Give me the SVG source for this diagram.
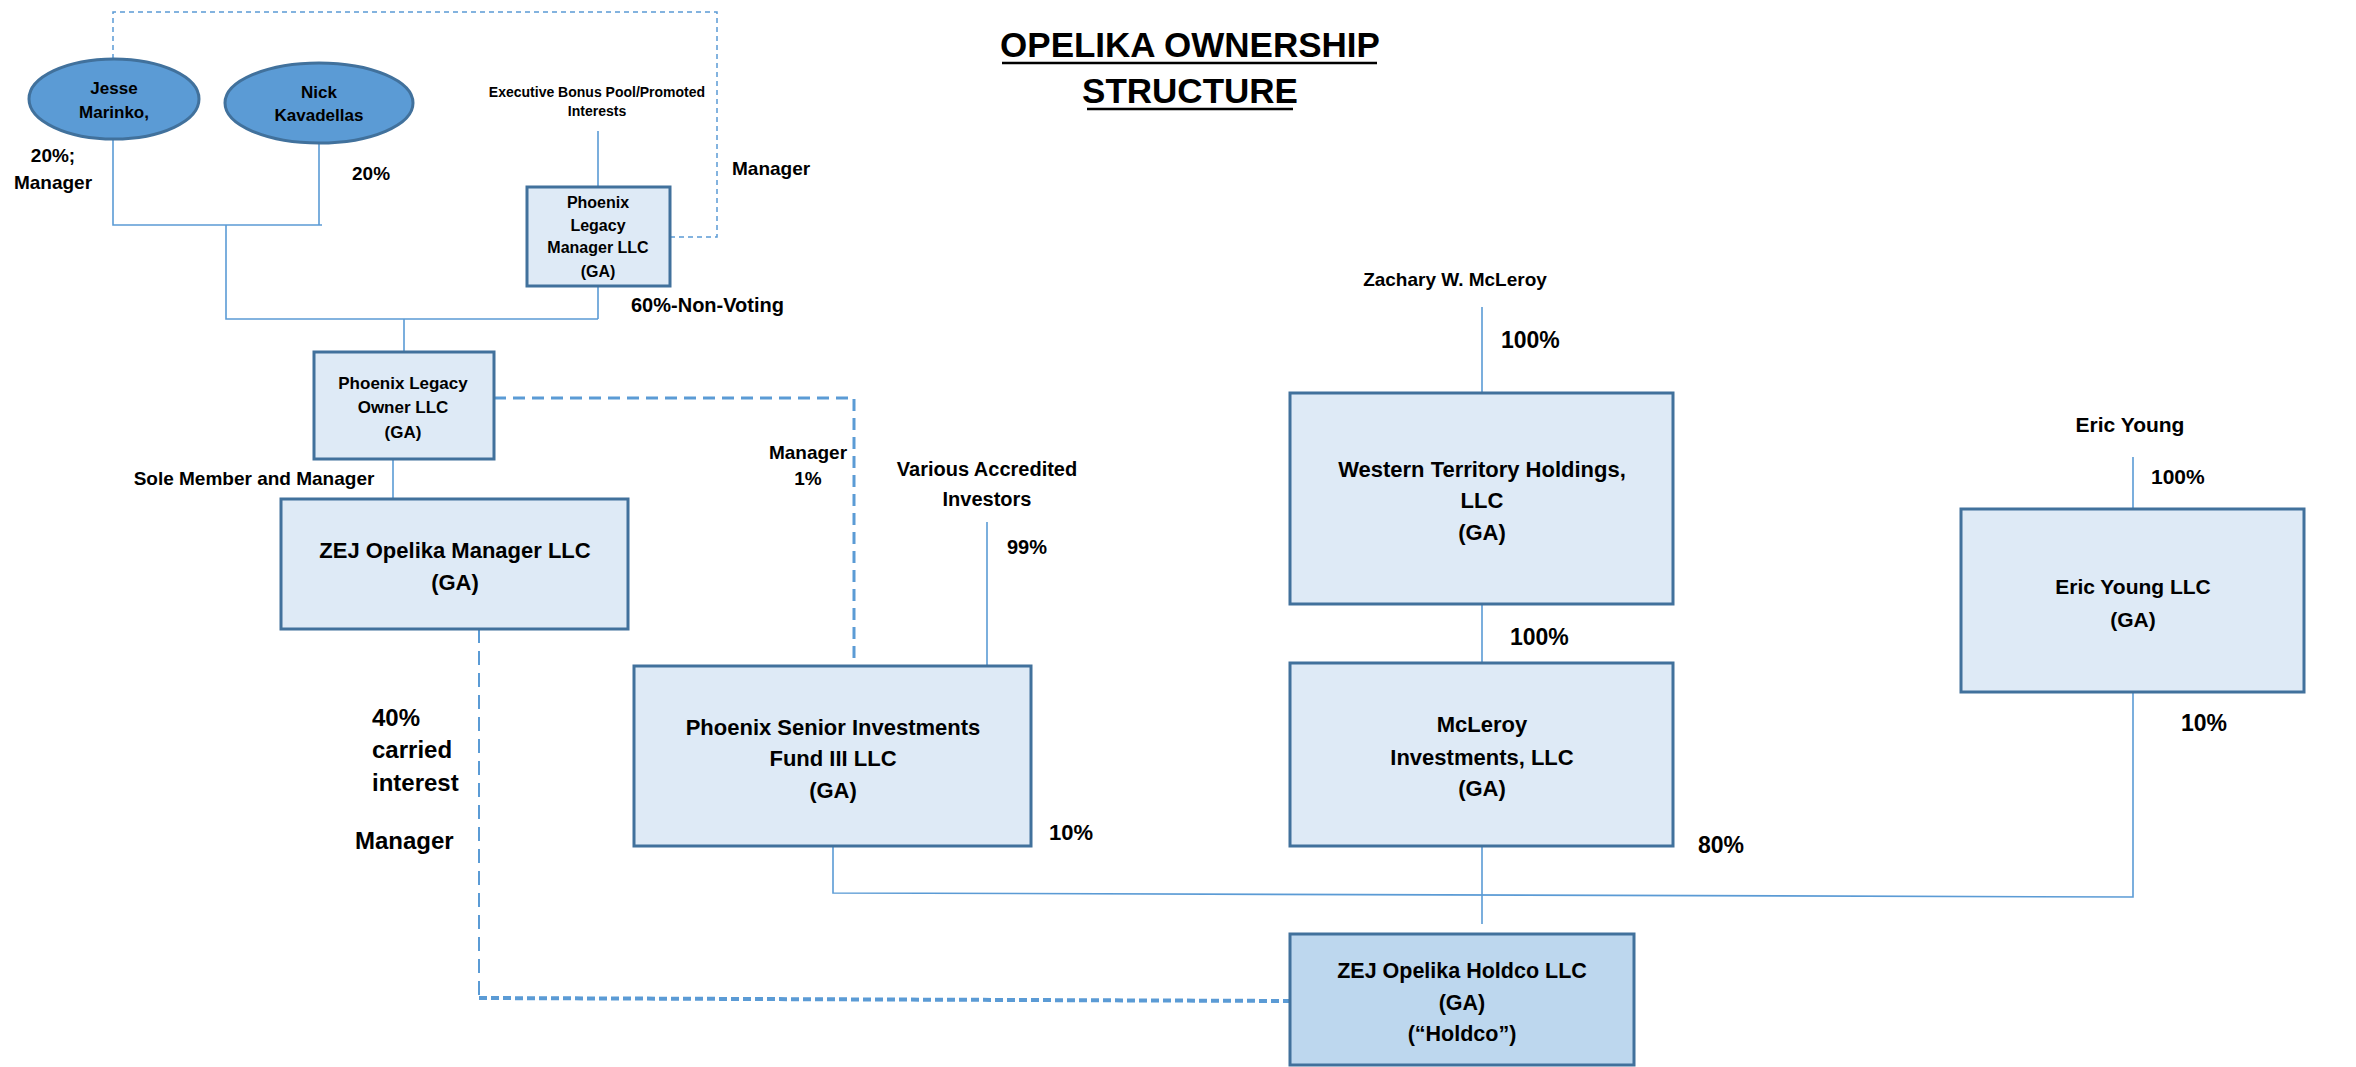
<svg xmlns="http://www.w3.org/2000/svg" width="2356" height="1067" viewBox="0 0 2356 1067">
<style>
text{font-family:"Liberation Sans",Arial,sans-serif;font-weight:bold;fill:#000}
.c{text-anchor:middle}
.box{fill:#deeaf6;stroke:#41719c;stroke-width:3}
.hold{fill:#bdd7ee;stroke:#41719c;stroke-width:3}
.ell{fill:#5b9bd5;stroke:#41719c;stroke-width:3}
.ln{fill:none;stroke:#5b9bd5;stroke-width:1.6}
.d1{fill:none;stroke:#5b9bd5;stroke-width:1.5;stroke-dasharray:5 4}
.d2{fill:none;stroke:#5b9bd5;stroke-width:3;stroke-dasharray:12 7}
.d3{fill:none;stroke:#5b9bd5;stroke-width:2;stroke-dasharray:14 8}
.d4{fill:none;stroke:#5b9bd5;stroke-width:4;stroke-dasharray:8 4}
</style>
<rect width="2356" height="1067" fill="#fff"/>
<g id="title">
<text class="c" x="1190" y="57" font-size="35">OPELIKA OWNERSHIP</text>
<text class="c" x="1190" y="103" font-size="35">STRUCTURE</text>
<line x1="1002" y1="63" x2="1377" y2="63" stroke="#000" stroke-width="2.5"/>
<line x1="1087" y1="109" x2="1293" y2="109" stroke="#000" stroke-width="2.5"/>
</g>
<g id="connectors">
<path class="d1" d="M113 59V12H717V237H671"/>
<path class="ln" d="M113 138V225H322M319 143V225M226 225V319H598M598 286V319M404 319V352M598 131V187"/>
<path class="ln" d="M393 459V499"/>
<path class="d2" d="M494 398H854V666"/>
<path class="ln" d="M987 522V668"/>
<path class="ln" d="M1482 307V393M1482 604V663M1482 846V924"/>
<path class="ln" d="M2133 457V509M2133 692V897L833 893V846"/>
<path class="d3" d="M479 629V998"/>
<path class="d4" d="M479 998L1289 1001"/>
</g>
<g id="labels">
<text class="c" x="53" y="162" font-size="19">20%;</text>
<text class="c" x="53" y="189" font-size="19">Manager</text>
<text x="352" y="180" font-size="19">20%</text>
<text x="732" y="175" font-size="19">Manager</text>
<text x="631" y="312" font-size="20">60%-Non-Voting</text>
<text class="c" x="254" y="485" font-size="19">Sole Member and Manager</text>
<text class="c" x="808" y="459" font-size="19">Manager</text>
<text class="c" x="808" y="485" font-size="19">1%</text>
<text x="1007" y="554" font-size="20">99%</text>
<text x="1049" y="840" font-size="22">10%</text>
<text x="1501" y="348" font-size="23">100%</text>
<text x="1510" y="645" font-size="23">100%</text>
<text x="1698" y="853" font-size="23">80%</text>
<text x="2151" y="484" font-size="21">100%</text>
<text x="2181" y="731" font-size="23">10%</text>
<text x="372" y="726" font-size="24">40%</text>
<text x="372" y="758" font-size="24">carried</text>
<text x="372" y="791" font-size="24">interest</text>
<text x="355" y="849" font-size="24">Manager</text>
</g>
<g id="jesse">
<ellipse class="ell" cx="114" cy="99" rx="85" ry="40"/>
<text class="c" x="114" y="94" font-size="17">Jesse</text>
<text class="c" x="114" y="118" font-size="17">Marinko,</text>
</g>
<g id="nick">
<ellipse class="ell" cx="319" cy="103" rx="94" ry="40"/>
<text class="c" x="319" y="98" font-size="17">Nick</text>
<text class="c" x="319" y="121" font-size="17">Kavadellas</text>
</g>
<g id="exec-bonus">
<text class="c" x="597" y="97" font-size="14">Executive Bonus Pool/Promoted</text>
<text class="c" x="597" y="116" font-size="14">Interests</text>
</g>
<g id="phoenix-legacy-manager">
<rect class="box" x="527" y="187" width="143" height="99"/>
<text class="c" x="598" y="208" font-size="16">Phoenix</text>
<text class="c" x="598" y="231" font-size="16">Legacy</text>
<text class="c" x="598" y="253" font-size="16">Manager LLC</text>
<text class="c" x="598" y="277" font-size="16">(GA)</text>
</g>
<g id="phoenix-legacy-owner">
<rect class="box" x="314" y="352" width="180" height="107"/>
<text class="c" x="403" y="389" font-size="17">Phoenix Legacy</text>
<text class="c" x="403" y="413" font-size="17">Owner LLC</text>
<text class="c" x="403" y="438" font-size="17">(GA)</text>
</g>
<g id="zej-manager">
<rect class="box" x="281" y="499" width="347" height="130"/>
<text class="c" x="455" y="558" font-size="22">ZEJ Opelika Manager LLC</text>
<text class="c" x="455" y="590" font-size="22">(GA)</text>
</g>
<g id="various-investors">
<text class="c" x="987" y="476" font-size="20">Various Accredited</text>
<text class="c" x="987" y="506" font-size="20">Investors</text>
</g>
<g id="phoenix-senior">
<rect class="box" x="634" y="666" width="397" height="180"/>
<text class="c" x="833" y="735" font-size="22">Phoenix Senior Investments</text>
<text class="c" x="833" y="766" font-size="22">Fund III LLC</text>
<text class="c" x="833" y="798" font-size="22">(GA)</text>
</g>
<g id="zachary">
<text class="c" x="1455" y="286" font-size="19">Zachary W. McLeroy</text>
</g>
<g id="western-territory">
<rect class="box" x="1290" y="393" width="383" height="211"/>
<text class="c" x="1482" y="477" font-size="22">Western Territory Holdings,</text>
<text class="c" x="1482" y="508" font-size="22">LLC</text>
<text class="c" x="1482" y="540" font-size="22">(GA)</text>
</g>
<g id="mcleroy-investments">
<rect class="box" x="1290" y="663" width="383" height="183"/>
<text class="c" x="1482" y="732" font-size="22">McLeroy</text>
<text class="c" x="1482" y="765" font-size="22">Investments, LLC</text>
<text class="c" x="1482" y="796" font-size="22">(GA)</text>
</g>
<g id="eric-young">
<text class="c" x="2130" y="432" font-size="21">Eric Young</text>
</g>
<g id="eric-young-llc">
<rect class="box" x="1961" y="509" width="343" height="183"/>
<text class="c" x="2133" y="594" font-size="21">Eric Young LLC</text>
<text class="c" x="2133" y="627" font-size="21">(GA)</text>
</g>
<g id="holdco">
<rect class="hold" x="1290" y="934" width="344" height="131"/>
<text class="c" x="1462" y="978" font-size="21.5">ZEJ Opelika Holdco LLC</text>
<text class="c" x="1462" y="1010" font-size="21.5">(GA)</text>
<text class="c" x="1462" y="1041" font-size="21.5">(“Holdco”)</text>
</g>
</svg>
